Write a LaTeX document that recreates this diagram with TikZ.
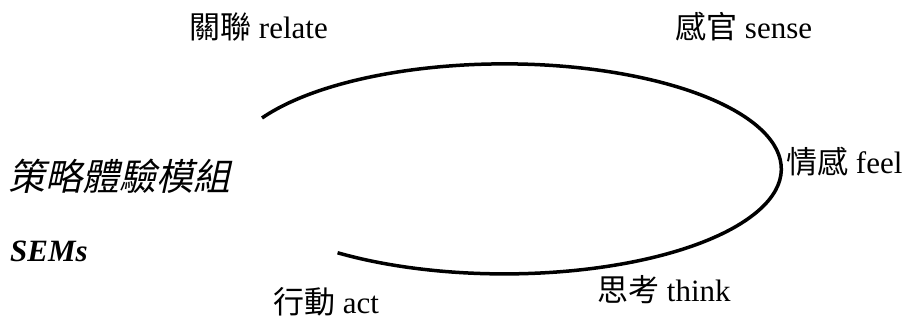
\documentclass[tikz,border=0pt]{standalone}
\usepackage{fontspec}
\setmainfont{Liberation Serif}
\newfontfamily\cjk{Noto Sans CJK TC}
\newfontfamily\cjkslant[FakeSlant=0.22]{Noto Sans CJK TC}
\newcommand{\mklabel}[2]{{\cjk #1} #2}
\begin{document}
\begin{tikzpicture}[x=1pt,y=1pt,
  lbl/.style={anchor=base west,inner sep=0pt,font=\fontsize{31}{34}\selectfont},
  curve/.style={line width=3.5pt}]
\useasboundingbox (0,0) rectangle (905,320);
\node[lbl] (relate) at (189,281) {\mklabel{關聯}{relate}};
\node[lbl] (sense) at (675,281) {\mklabel{感官}{sense}};
\node[lbl] (feel) at (786,146) {\mklabel{情感}{feel}};
\node[lbl] (think) at (597,18) {\mklabel{思考}{think}};
\node[lbl] (act) at (273,6) {\mklabel{行動}{act}};
\node[anchor=base west,inner sep=0pt,font=\fontsize{37}{42}\selectfont\cjkslant] (title) at (8,129) {策略體驗模組};
\node[anchor=base west,inner sep=0pt,font=\fontsize{31}{34}\selectfont\bfseries\itshape] (sems) at (10,58) {SEMs};
\coordinate (arcstart) at (262,202);
\draw[curve] (arcstart) arc[start angle=151, end angle=-127, x radius=277pt, y radius=105pt];
\end{tikzpicture}
\end{document}
